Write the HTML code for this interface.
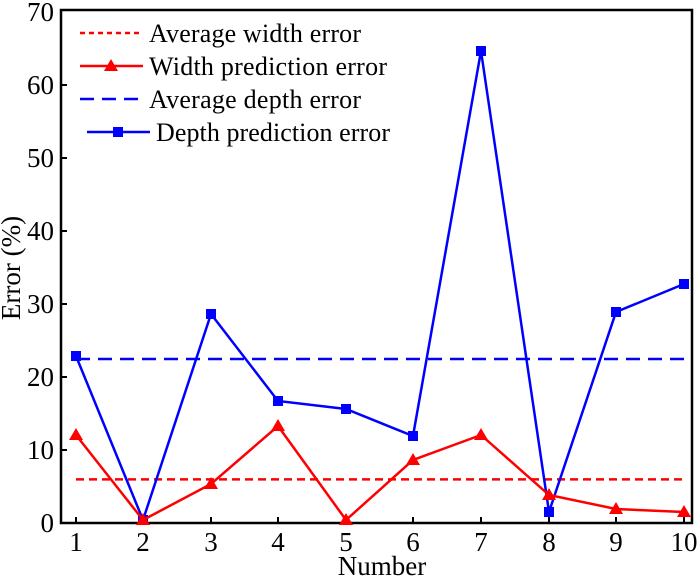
<!DOCTYPE html><html><head><style>body{margin:0;background:#fff}</style></head><body>
<svg width="700" height="577" xmlns="http://www.w3.org/2000/svg" font-family="Liberation Serif, serif">
<rect x="0" y="0" width="700" height="577" fill="#fff"/>
<g stroke="#000" stroke-width="2.5" fill="none"><path d="M61,10 H692 V523 H61 Z"/></g>
<g stroke="#000" stroke-width="2">
<line x1="61" y1="450" x2="67" y2="450"/><line x1="61" y1="377" x2="67" y2="377"/><line x1="61" y1="304" x2="67" y2="304"/><line x1="61" y1="231" x2="67" y2="231"/><line x1="61" y1="158" x2="67" y2="158"/><line x1="61" y1="85" x2="67" y2="85"/>
<line x1="76" y1="523" x2="76" y2="517"/><line x1="143" y1="523" x2="143" y2="517"/><line x1="211" y1="523" x2="211" y2="517"/><line x1="278" y1="523" x2="278" y2="517"/><line x1="346" y1="523" x2="346" y2="517"/><line x1="413" y1="523" x2="413" y2="517"/><line x1="481" y1="523" x2="481" y2="517"/><line x1="549" y1="523" x2="549" y2="517"/><line x1="616" y1="523" x2="616" y2="517"/><line x1="684" y1="523" x2="684" y2="517"/>
</g>
<g font-size="27" text-anchor="end" fill="#000">
<text x="54" y="532">0</text><text x="54" y="459">10</text><text x="54" y="386">20</text><text x="54" y="313">30</text><text x="54" y="240">40</text><text x="54" y="167">50</text><text x="54" y="94">60</text><text x="54" y="21">70</text>
</g>
<g font-size="27" text-anchor="middle" fill="#000">
<text x="76" y="551">1</text><text x="143" y="551">2</text><text x="211" y="551">3</text><text x="278" y="551">4</text><text x="346" y="551">5</text><text x="413" y="551">6</text><text x="481" y="551">7</text><text x="549" y="551">8</text><text x="616" y="551">9</text><text x="684" y="551">10</text>
<text x="382" y="575">Number</text>
<text transform="translate(20,268) rotate(-90)">Error (%)</text>
</g>
<line x1="76" y1="479.4" x2="684" y2="479.4" stroke="#f00" stroke-width="2.5" stroke-dasharray="8,5"/>
<line x1="76" y1="359" x2="684" y2="359" stroke="#00f" stroke-width="2.5" stroke-dasharray="14,8"/>
<polyline fill="none" stroke="#00f" stroke-width="2.5" points="76,356 143,520 211,314 278,401 346,409 413,436 481,51 549,512 616,312 684,284"/>
<g fill="#00f">
<rect x="71" y="351" width="10" height="10"/><rect x="138" y="515" width="10" height="10"/><rect x="206" y="309" width="10" height="10"/><rect x="273" y="396" width="10" height="10"/><rect x="341" y="404" width="10" height="10"/><rect x="408" y="431" width="10" height="10"/><rect x="476" y="46" width="10" height="10"/><rect x="544" y="507" width="10" height="10"/><rect x="611" y="307" width="10" height="10"/><rect x="679" y="279" width="10" height="10"/>
</g>
<polyline fill="none" stroke="#f00" stroke-width="2.5" points="76,435 143,520 211,484 278,426 346,520 413,460 481,435 549,495 616,509 684,512"/>
<g fill="#f00">
<path d="M76,428 l-7,12 h14z"/><path d="M143,513 l-7,12 h14z"/><path d="M211,477 l-7,12 h14z"/><path d="M278,419 l-7,12 h14z"/><path d="M346,513 l-7,12 h14z"/><path d="M413,453 l-7,12 h14z"/><path d="M481,428 l-7,12 h14z"/><path d="M549,488 l-7,12 h14z"/><path d="M616,502 l-7,12 h14z"/><path d="M684,505 l-7,12 h14z"/>
</g>
<line x1="80" y1="33" x2="143" y2="33" stroke="#f00" stroke-width="2.5" stroke-dasharray="5,4"/>
<line x1="80" y1="66" x2="143" y2="66" stroke="#f00" stroke-width="2.5"/><path d="M111,59 l-7,12 h14z" fill="#f00"/>
<line x1="80" y1="99" x2="143" y2="99" stroke="#00f" stroke-width="2.5" stroke-dasharray="14,8"/>
<line x1="87" y1="132" x2="150" y2="132" stroke="#00f" stroke-width="2.5"/><rect x="113" y="127" width="10" height="10" fill="#00f"/>
<g font-size="26" fill="#000">
<text x="149" y="42" textLength="212">Average width error</text>
<text x="149" y="75" textLength="238">Width prediction error</text>
<text x="149" y="108" textLength="212">Average depth error</text>
<text x="156" y="141" textLength="234">Depth prediction error</text>
</g>
</svg>
</body></html>
